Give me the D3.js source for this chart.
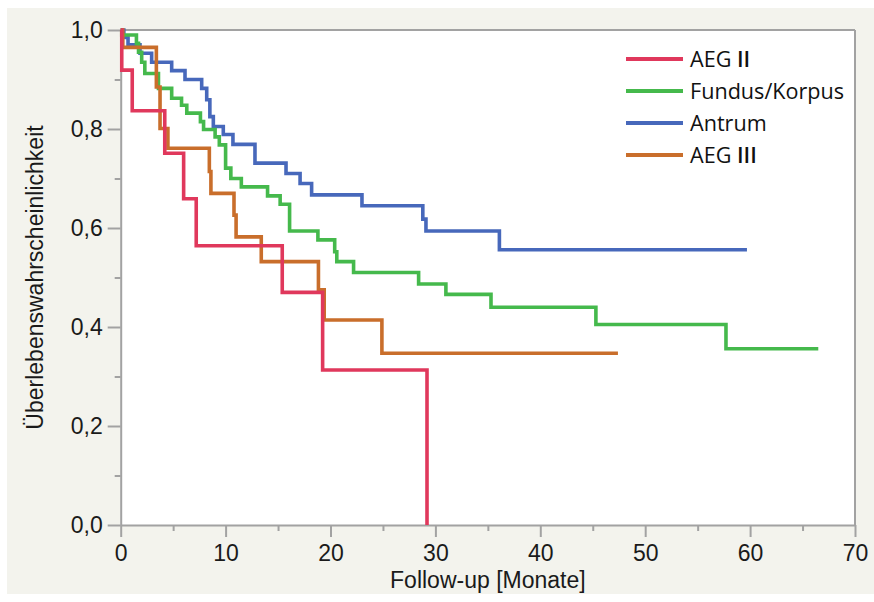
<!DOCTYPE html>
<html>
<head>
<meta charset="utf-8">
<script src="https://cdn.jsdelivr.net/npm/d3@7/dist/d3.min.js"></script>
<style>
html,body{margin:0;padding:0;background:#ffffff;}
svg{display:block;}
</style>
</head>
<body>
<svg id="chart" width="874" height="602"></svg>
<script>
// ---- data ----
const seriesNames = ["AEG II", "Fundus/Korpus", "Antrum", "AEG III"];
const seriesColors = ["#e0385c", "#45b94c", "#4768bb", "#c96e2b"];

const aeg2Months = [0, 0.1, 1.1, 4.2, 6.0, 7.2, 15.4, 19.25, 29.2];
const aeg2Surv   = [1, 0.919, 0.837, 0.751, 0.659, 0.564, 0.470, 0.313, 0];

const fundusMonths = [0, 0.1, 1.5, 1.7, 2.0, 2.3, 3.6, 4.86, 5.8, 6.3, 7.6, 7.9, 9.0, 9.4, 10.0, 10.5, 11.5, 14.0, 15.2, 16.1, 18.8, 20.4, 20.6, 22.2, 28.4, 31.0, 35.3, 45.3, 57.7, 66.5];
const fundusSurv   = [1, 0.99, 0.973, 0.955, 0.935, 0.912, 0.882, 0.862, 0.848, 0.832, 0.815, 0.799, 0.784, 0.768, 0.721, 0.700, 0.683, 0.665, 0.648, 0.594, 0.576, 0.552, 0.532, 0.510, 0.487, 0.466, 0.440, 0.405, 0.356, 0.356];

const antrumMonths = [0, 0.3, 0.7, 1.84, 2.95, 4.86, 6.13, 7.72, 8.2, 8.5, 8.83, 9.78, 10.7, 12.8, 15.76, 17.1, 18.2, 23.0, 28.8, 29.1, 36.1, 59.7];
const antrumSurv   = [1, 0.985, 0.970, 0.953, 0.935, 0.918, 0.900, 0.882, 0.859, 0.825, 0.805, 0.789, 0.769, 0.731, 0.710, 0.690, 0.667, 0.645, 0.618, 0.594, 0.556, 0.556];

const aeg3Months = [0, 0.2, 3.4, 3.75, 4.5, 8.45, 8.6, 10.8, 11.0, 13.4, 18.85, 19.4, 24.9, 47.4];
const aeg3Surv   = [1, 0.965, 0.885, 0.801, 0.761, 0.714, 0.670, 0.626, 0.582, 0.532, 0.475, 0.414, 0.347, 0.347];

const xTicks = [0, 10, 20, 30, 40, 50, 60, 70];
const xMinorTicks = [5, 15, 25, 35, 45, 55, 65];
const yTicks = [0, 0.2, 0.4, 0.6, 0.8, 1.0];
const yMinorTicks = [0.1, 0.3, 0.5, 0.7, 0.9];
const xLabel = "Follow-up [Monate]";
const yLabel = "Überlebenswahrscheinlichkeit";

// ---- layout ----
const svg = d3.select("#chart");
const plotLeft = 120.7, plotRight = 855, plotTop = 30, plotBottom = 525;
const axisColor = "#a2a2a2";
const tickFont = "'Liberation Sans', Arial, Helvetica, sans-serif";
const legendFont = "'Open Sans', 'Noto Sans', sans-serif";

svg.append("rect").attr("x", 7).attr("y", 8).attr("width", 867).attr("height", 586).attr("fill", "#f3f3ed");
svg.append("rect").attr("x", plotLeft).attr("y", plotTop).attr("width", plotRight - plotLeft).attr("height", plotBottom - plotTop).attr("fill", "#ffffff");

const x = d3.scaleLinear().domain([0, 70]).range([plotLeft, plotRight]);
const y = d3.scaleLinear().domain([0, 1]).range([plotBottom, plotTop]);

const locale = d3.formatLocale({decimal: ",", thousands: ".", grouping: [3], currency: ["", "€"]});
const yFmt = locale.format(".1f");

// frame (top and right)
svg.append("line").attr("x1", plotLeft).attr("x2", plotRight).attr("y1", plotTop).attr("y2", plotTop)
  .attr("stroke", axisColor).attr("stroke-width", 2);
svg.append("line").attr("x1", plotRight).attr("x2", plotRight).attr("y1", plotTop).attr("y2", plotBottom)
  .attr("stroke", axisColor).attr("stroke-width", 2);

// minor ticks
svg.append("g").attr("transform", `translate(0,${plotBottom})`)
  .call(d3.axisBottom(x).tickValues(xMinorTicks).tickSize(6).tickSizeOuter(0).tickFormat(""))
  .call(g => g.select(".domain").remove());
svg.append("g").attr("transform", `translate(${plotLeft},0)`)
  .call(d3.axisLeft(y).tickValues(yMinorTicks).tickSize(6).tickSizeOuter(0).tickFormat(""))
  .call(g => g.select(".domain").remove());

// major axes
svg.append("g").attr("transform", `translate(0,${plotBottom})`)
  .call(d3.axisBottom(x).tickValues(xTicks).tickSize(12).tickPadding(8).tickSizeOuter(0).tickFormat(d3.format("d")));
svg.append("g").attr("transform", `translate(${plotLeft},0)`)
  .call(d3.axisLeft(y).tickValues(yTicks).tickSize(13).tickPadding(5).tickSizeOuter(0).tickFormat(yFmt));

svg.selectAll(".tick line").attr("stroke", axisColor).attr("stroke-width", 2);
svg.selectAll(".domain").attr("stroke", axisColor).attr("stroke-width", 2);
svg.selectAll(".tick text").attr("font-family", tickFont).attr("font-size", 23).attr("fill", "#1a1a1a");

// axis titles
svg.append("text").attr("x", (plotLeft + plotRight) / 2).attr("y", 588)
  .attr("text-anchor", "middle").attr("font-family", tickFont).attr("font-size", 23).attr("fill", "#1a1a1a")
  .text(xLabel);
svg.append("text").attr("transform", `translate(43,${(plotTop + plotBottom) / 2}) rotate(-90)`)
  .attr("text-anchor", "middle").attr("font-family", tickFont).attr("font-size", 23).attr("fill", "#1a1a1a")
  .text(yLabel);

// curves
const line = d3.line().x(d => x(d[0])).y(d => y(d[1])).curve(d3.curveStepAfter);
const curves = [
  {months: antrumMonths, surv: antrumSurv, color: seriesColors[2]},
  {months: fundusMonths, surv: fundusSurv, color: seriesColors[1]},
  {months: aeg3Months, surv: aeg3Surv, color: seriesColors[3]},
  {months: aeg2Months, surv: aeg2Surv, color: seriesColors[0]}
];
curves.forEach(c => {
  const pts = c.months.map((m, i) => [m, c.surv[i]]);
  svg.append("path").attr("d", line(pts)).attr("fill", "none")
    .attr("stroke", c.color).attr("stroke-width", 3.6).attr("stroke-linejoin", "miter");
});

// legend
const legY = d3.scalePoint().domain(seriesNames).range([59, 155]);
seriesNames.forEach((name, i) => {
  svg.append("line").attr("x1", 626).attr("x2", 683).attr("y1", legY(name)).attr("y2", legY(name))
    .attr("stroke", seriesColors[i]).attr("stroke-width", 4);
  const t = svg.append("text").attr("x", 690).attr("y", legY(name) + 7.5)
    .attr("font-family", legendFont).attr("font-size", 21.6).attr("fill", "#111");
  const m = name.match(/^(.*\s)(I+)$/);
  if (m) {
    t.append("tspan").text(m[1]);
    t.append("tspan").attr("font-weight", 600).text(m[2]);
  } else {
    t.text(name);
  }
});
</script>
</body>
</html>
